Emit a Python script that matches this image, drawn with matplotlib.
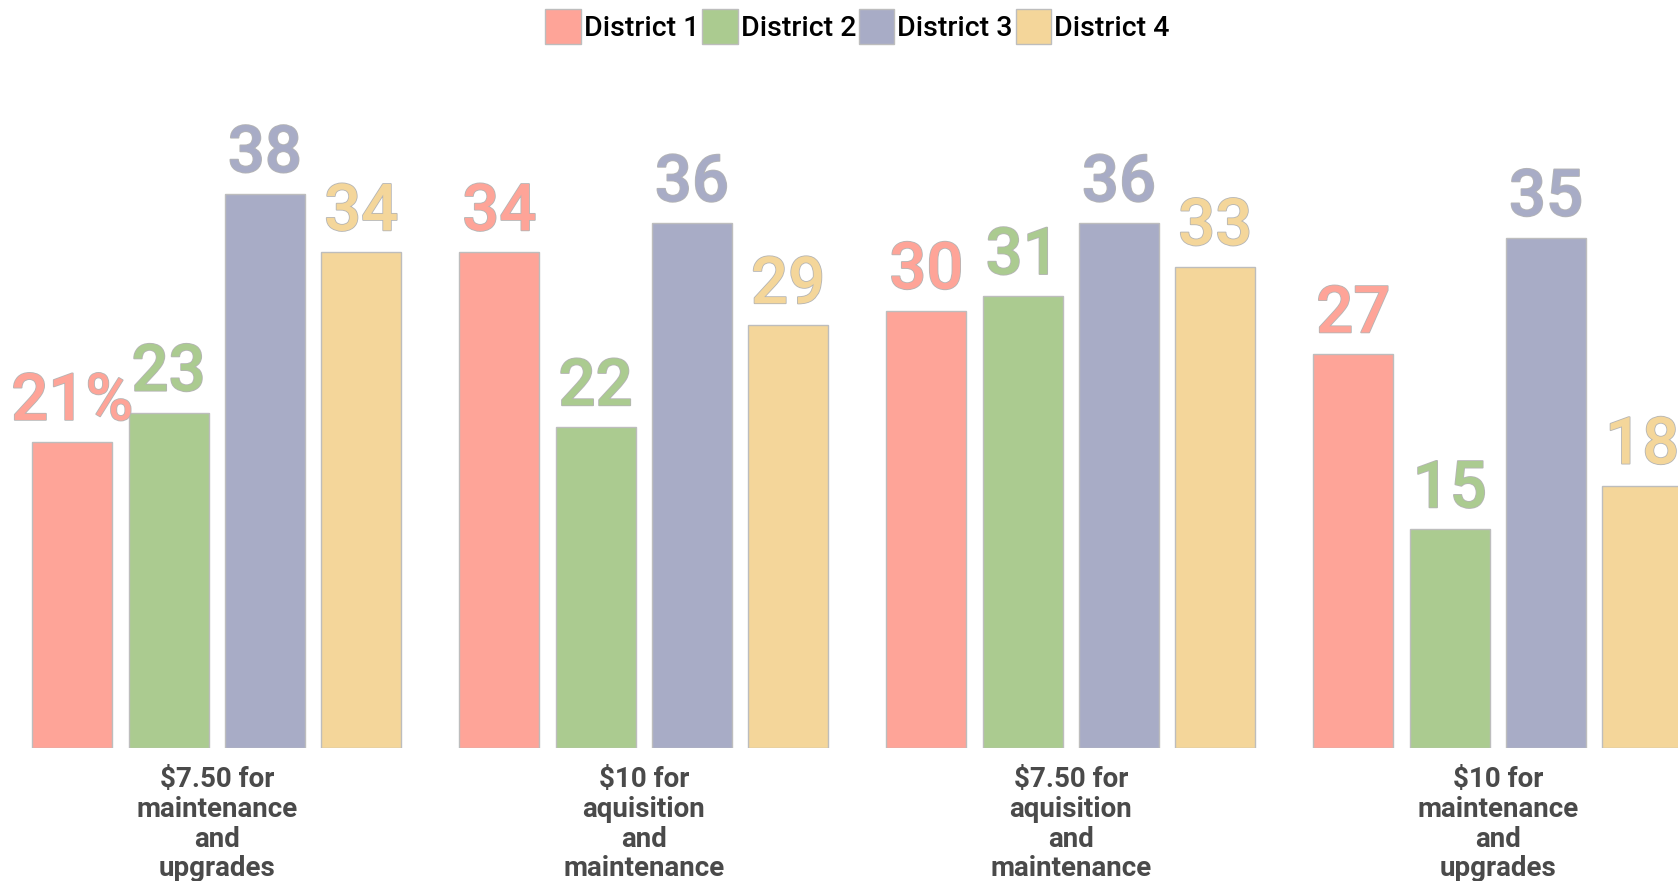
import numpy as np
import matplotlib
matplotlib.use("Agg")
import matplotlib.pyplot as plt
import matplotlib.patheffects as pe
from matplotlib.patches import Patch

categories = [
    "$7.50 for\nmaintenance\nand\nupgrades",
    "$10 for\naquisition\nand\nmaintenance",
    "$7.50 for\naquisition\nand\nmaintenance",
    "$10 for\nmaintenance\nand\nupgrades",
]
districts = ["District 1", "District 2", "District 3", "District 4"]
district_1 = [21, 34, 30, 27]
district_2 = [23, 22, 31, 15]
district_3 = [38, 36, 36, 35]
district_4 = [34, 29, 33, 18]
colors = ["#fea498", "#abcb90", "#a8acc6", "#f4d69a"]

series = [district_1, district_2, district_3, district_4]

plt.rcParams["font.family"] = ["Roboto", "DejaVu Sans"]

fig = plt.figure(figsize=(16.78, 8.81), dpi=100)
ax = fig.add_axes([0, 133 / 881, 1, 748 / 881])

x = np.arange(len(categories))
step = 0.2255
width = 0.1875

for i, (name, vals, col) in enumerate(zip(districts, series, colors)):
    xs = x + (i - 1.5) * step
    ax.bar(xs, vals, width=width, color=col, edgecolor="#bdbdbd", linewidth=1)
    for j, (xx, v) in enumerate(zip(xs, vals)):
        lab = f"{v}%" if (i == 0 and j == 0) else f"{v}"
        ax.text(xx, v + 1.5, lab, ha="center", va="baseline",
                fontsize=47, fontweight="medium", color=col,
                path_effects=[pe.withStroke(linewidth=1.2, foreground="#b5b5b5")])

for xx, cat in zip(x, categories):
    ax.annotate(cat, xy=(xx, 0), xytext=(0, -13), textcoords="offset points",
                ha="center", va="top", fontsize=20, fontweight="bold",
                color="#4a4a4a", linespacing=1.13, annotation_clip=False)

ax.set_xlim(-0.5075, 3.422)
ax.set_ylim(0, 51.3)
ax.axis("off")

handles = [Patch(facecolor=c, edgecolor="#bdbdbd", linewidth=1) for c in colors]
leg = fig.legend(handles, districts, loc="upper center", bbox_to_anchor=(0.511, 1.0),
                 ncol=4, frameon=False, fontsize=20.5, handlelength=1.25, handleheight=1.55,
                 handletextpad=0.1, columnspacing=0.1, borderaxespad=0.0, borderpad=0.3)
for t in leg.get_texts():
    t.set_fontweight("medium")
    t.set_color("black")

fig.savefig("out.png", dpi=100)
